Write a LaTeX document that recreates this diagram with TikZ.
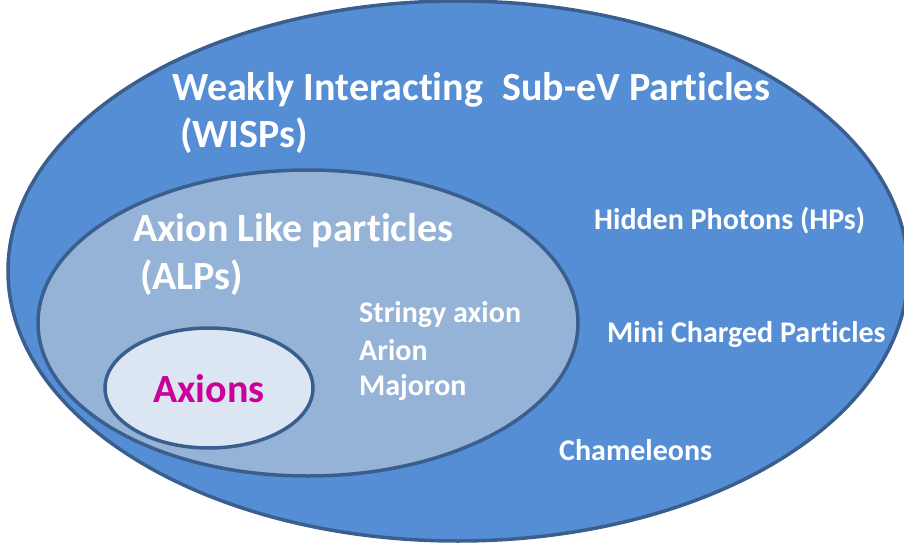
\documentclass[tikz,border=0pt]{standalone}
\usepackage{fontspec}
\setmainfont{Carlito}[Ligatures=NoCommon]
\definecolor{edge}{HTML}{3A5F8E}
\definecolor{outerfill}{HTML}{558ED5}
\definecolor{midfill}{HTML}{95B3D7}
\definecolor{innerfill}{HTML}{DCE6F2}
\definecolor{axmag}{HTML}{CC0099}
\begin{document}
\begin{tikzpicture}[x=1pt,y=-1pt,
  blob/.style={draw=edge,line width=3.5pt},
  bigtxt/.style={anchor=base west,inner sep=0pt,text=white,font=\bfseries\fontsize{40}{44}\selectfont},
  smalltxt/.style={anchor=base west,inner sep=0pt,text=white,font=\bfseries\fontsize{30}{34}\selectfont}]
\useasboundingbox (0,0) rectangle (904,545);
\clip (0,0) rectangle (904,545);
\path[blob,fill=outerfill] (458,271) ellipse [x radius=450,y radius=270];
\path[blob,fill=midfill] (308,323) ellipse [x radius=270,y radius=153];
\path[blob,fill=innerfill] (209,388) ellipse [x radius=104,y radius=60];
\node[bigtxt] (wisp) at (172,101) {Weakly Interacting\hspace{0.25em} Sub-eV Particles};
\node[bigtxt] (wisp2) at (180,148) {(WISPs)};
\node[bigtxt] (alp) at (133,241) {Axion Like particles};
\node[bigtxt] (alp2) at (140,289) {(ALPs)};
\node[bigtxt,text=axmag] (ax) at (153,402) {Axions};
\node[smalltxt] (s1) at (359,322) {Stringy axion};
\node[smalltxt] (s2) at (359,360) {Arion};
\node[smalltxt] (s3) at (359,395) {Majoron};
\node[smalltxt] (hp) at (594,230) {Hidden Photons (HPs)};
\node[smalltxt] (mcp) at (607,342) {Mini Charged Particles};
\node[smalltxt] (ch) at (559,460) {Chameleons};
\end{tikzpicture}
\end{document}
